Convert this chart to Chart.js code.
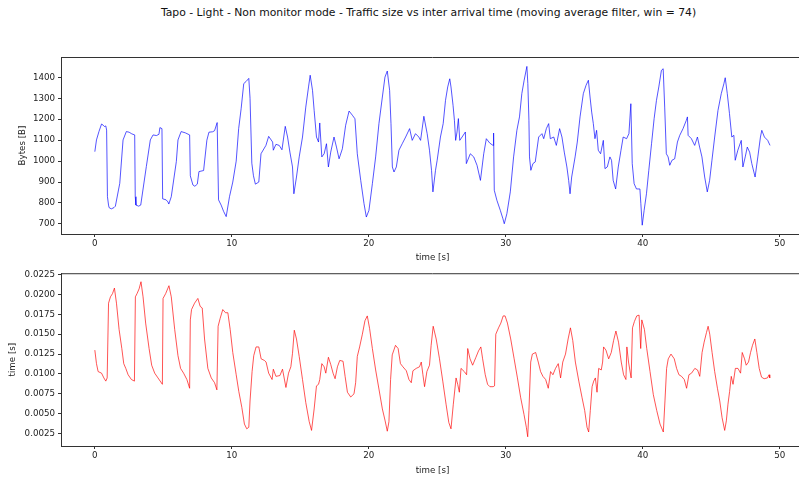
<!DOCTYPE html>
<html>
<head>
<meta charset="utf-8">
<script src="https://cdn.jsdelivr.net/npm/chart.js@4.4.1/dist/chart.umd.min.js"></script>
<style>
  html, body { margin: 0; padding: 0; background: #fff; overflow: hidden; }
  body { width: 799px; height: 482px; position: relative; }
  #suptitle {
    position: absolute; left: 0; top: 6px; width: 857px; text-align: center;
    font: 10.8px "DejaVu Sans", sans-serif; color: #111; white-space: nowrap;
  }
  canvas { position: absolute; left: 0; }
  #cTop { top: 0; }
  #cBot { top: 265px; }
</style>
</head>
<body>
<div id="suptitle">Tapo - Light - Non monitor mode - Traffic size vs inter arrival time (moving average filter, win = 74)</div>
<canvas id="cTop" width="810" height="265"></canvas>
<canvas id="cBot" width="810" height="217"></canvas>
<script>
// valeurs (moyenne glissante)
const xTicks = [0, 10, 20, 30, 40, 50];
const bytesTicks = [700, 800, 900, 1000, 1100, 1200, 1300, 1400];
const iatTicks = [0.0025, 0.005, 0.0075, 0.01, 0.0125, 0.015, 0.0175, 0.02, 0.0225];

const topTime = [0, 0.12, 0.3, 0.49, 0.6, 0.7, 0.8, 0.86, 0.92, 1.0, 1.04, 1.2, 1.4, 1.5, 1.82, 2.06, 2.3, 2.5, 2.7, 2.91,
  2.95, 3.0, 3.2, 3.35, 3.76, 4.05, 4.25, 4.5, 4.68, 4.75, 4.9, 4.95, 5.2, 5.34, 5.4, 5.58, 5.95, 6.07, 6.3, 6.6,
  6.92, 6.97, 7.16, 7.3, 7.48, 7.6, 7.94, 8.18, 8.33, 8.6, 8.74, 8.93, 9.03, 9.22, 9.4, 9.59, 9.83, 10.07, 10.32, 10.5,
  10.68, 10.87, 11.04, 11.24, 11.33, 11.46, 11.58, 11.72, 11.97, 12.13, 12.49, 12.69, 12.98, 13.03, 13.22, 13.46, 13.66, 13.9, 14.07, 14.24,
  14.43, 14.53, 14.72, 14.92, 15.16, 15.4, 15.6, 15.72, 15.89, 16.01, 16.18, 16.33, 16.42, 16.57, 16.74, 16.91, 17.05, 17.22, 17.46, 17.64,
  17.83, 18.07, 18.31, 18.56, 18.8, 18.99, 19.16, 19.41, 19.65, 19.82, 20.01, 20.26, 20.5, 20.74, 20.99, 21.18, 21.35, 21.52, 21.62, 21.72,
  21.84, 22.01, 22.2, 22.44, 22.69, 22.98, 23.17, 23.41, 23.65, 23.78, 24.02, 24.26, 24.43, 24.58, 24.68, 24.87, 24.99, 25.23, 25.43, 25.6,
  25.76, 25.91, 26.0, 26.15, 26.25, 26.34, 26.44, 26.54, 26.64, 26.81, 27.05, 27.12, 27.41, 27.66, 27.9, 28.15, 28.39, 28.58, 28.83, 29.07,
  29.11, 29.16, 29.35, 29.6, 29.79, 29.89, 30.08, 30.33, 30.57, 30.81, 31.0, 31.17, 31.34, 31.54, 31.61, 31.69, 31.73, 31.83, 31.98, 32.15,
  32.4, 32.64, 32.77, 32.96, 33.13, 33.25, 33.5, 33.69, 33.93, 34.1, 34.27, 34.46, 34.59, 34.69, 34.81, 35.06, 35.22, 35.42, 35.66, 35.86,
  36.03, 36.15, 36.27, 36.39, 36.51, 36.63, 36.75, 36.92, 37.12, 37.24, 37.41, 37.6, 37.72, 37.84, 38.02, 38.21, 38.41, 38.57, 38.82, 38.99,
  39.13, 39.23, 39.37, 39.54, 39.79, 39.86, 39.96, 40.1, 40.27, 40.44, 40.64, 40.83, 41.0, 41.17, 41.36, 41.49, 41.6, 41.72, 41.85, 41.97,
  42.13, 42.33, 42.53, 42.7, 42.94, 43.18, 43.26, 43.31, 43.55, 43.79, 43.99, 44.15, 44.32, 44.52, 44.71, 44.88, 45.05, 45.25, 45.49, 45.73,
  45.92, 46.02, 46.17, 46.33, 46.5, 46.65, 46.75, 46.94, 47.19, 47.31, 47.48, 47.63, 47.8, 47.96, 48.2, 48.4, 48.59, 48.69, 48.88, 49.12, 49.29];
const topBytes = [1045, 1101, 1141, 1177, 1172, 1165, 1168, 1148, 830, 790, 778, 772, 778, 785, 894, 1101, 1141, 1138, 1130, 1125,
  830, 790, 785, 790, 974, 1101, 1125, 1122, 1128, 1160, 1155, 820, 815, 805, 795, 830, 998, 1101, 1141, 1135,
  1125, 930, 886, 880, 890, 950, 955, 1100, 1138, 1140, 1145, 1184, 815, 790, 760, 735, 830, 900, 1000, 1155,
  1250, 1370, 1380, 1395, 1300, 990, 930, 890, 900, 1035, 1075, 1118, 1091, 1052, 1080, 1075, 1054, 1166, 1115, 1043,
  972, 844, 924, 1020, 1115, 1258, 1354, 1410, 1338, 1242, 1115, 1091, 1182, 1020, 1035, 1083, 972, 1043, 1115, 1067,
  1011, 1059, 1171, 1239, 1219, 1202, 1035, 908, 797, 733, 765, 892, 1020, 1179, 1306, 1401, 1430, 1338, 1179, 972,
  948, 972, 1052, 1083, 1115, 1155, 1099, 1131, 1115, 1099, 1214, 1131, 1052, 956, 853, 956, 1004, 1115, 1179, 1290,
  1354, 1393, 1354, 1266, 1195, 1099, 1139, 1203, 1099, 1115, 1139, 988, 1035, 1020, 980, 908, 1035, 1107, 1086, 1075,
  1134, 861, 813, 765, 725, 701, 749, 853, 1020, 1147, 1211, 1322, 1386, 1452, 1370, 1195, 1020, 956, 988, 996,
  1115, 1131, 1107, 1155, 1179, 1107, 1115, 1075, 1155, 1115, 1043, 972, 908, 844, 924, 1020, 1091, 1211, 1322, 1362,
  1386, 1306, 1234, 1179, 1107, 1147, 1052, 1035, 1099, 964, 972, 1020, 1004, 908, 867, 972, 1052, 1115, 1107, 1131,
  1274, 988, 892, 867, 867, 797, 694, 765, 844, 956, 1083, 1203, 1290, 1354, 1433, 1441, 1258, 1035, 1020, 980,
  1004, 1011, 1091, 1123, 1155, 1195, 1211, 1123, 1107, 1075, 1115, 1067, 1020, 924, 853, 908, 1004, 1115, 1242, 1322,
  1369, 1398, 1322, 1227, 1115, 1123, 1004, 1052, 1099, 972, 1020, 1067, 1043, 988, 924, 1020, 1115, 1147, 1115, 1099, 1075];

const botTime = [0, 0.12, 0.24, 0.49, 0.66, 0.8, 0.9, 1.0, 1.14, 1.29, 1.43, 1.58, 1.77, 1.97, 2.11, 2.26, 2.43, 2.67, 2.89, 2.96,
  3.08, 3.23, 3.37, 3.52, 3.71, 3.96, 4.15, 4.37, 4.61, 4.93, 4.98, 5.17, 5.41, 5.58, 5.83, 6.07, 6.26, 6.48, 6.72, 6.92,
  6.97, 7.06, 7.28, 7.52, 7.69, 7.84, 8.01, 8.25, 8.5, 8.74, 8.91, 9.0, 9.15, 9.34, 9.54, 9.71, 9.88, 10.07, 10.32, 10.51,
  10.73, 10.92, 11.09, 11.24, 11.33, 11.48, 11.6, 11.77, 11.97, 12.14, 12.38, 12.5, 12.69, 12.94, 13.03, 13.22, 13.51, 13.7, 13.95, 14.14,
  14.31, 14.43, 14.56, 14.72, 14.92, 15.16, 15.4, 15.65, 15.82, 16.01, 16.18, 16.33, 16.42, 16.57, 16.74, 16.86, 17.05, 17.22, 17.39, 17.54,
  17.71, 17.88, 18.12, 18.27, 18.44, 18.68, 18.92, 19.04, 19.16, 19.33, 19.53, 19.72, 19.89, 20.06, 20.26, 20.5, 20.74, 20.99, 21.18, 21.35,
  21.47, 21.59, 21.71, 21.95, 22.14, 22.31, 22.49, 22.74, 22.93, 23.1, 23.22, 23.46, 23.7, 23.83, 23.95, 24.07, 24.24, 24.43, 24.55, 24.7,
  24.92, 25.16, 25.4, 25.64, 25.84, 26.0, 26.17, 26.37, 26.49, 26.61, 26.73, 26.97, 27.14, 27.22, 27.39, 27.58, 27.82, 28.01, 28.18, 28.31,
  28.5, 28.67, 28.84, 29.08, 29.18, 29.27, 29.47, 29.64, 29.81, 29.95, 30.12, 30.36, 30.61, 30.85, 31.09, 31.33, 31.5, 31.6, 31.69, 31.82,
  31.94, 32.18, 32.37, 32.54, 32.71, 32.91, 33.1, 33.27, 33.44, 33.63, 33.83, 34.0, 34.16, 34.36, 34.55, 34.72, 34.89, 35.08, 35.33, 35.57,
  35.76, 35.93, 36.05, 36.17, 36.3, 36.42, 36.54, 36.66, 36.78, 36.97, 37.07, 37.14, 37.31, 37.51, 37.7, 37.87, 38.04, 38.23, 38.43, 38.6,
  38.77, 38.84, 38.96, 39.15, 39.25, 39.39, 39.56, 39.73, 39.85, 39.93, 40.12, 40.29, 40.53, 40.77, 41.02, 41.26, 41.5, 41.62, 41.74, 41.86,
  42.06, 42.3, 42.47, 42.64, 42.83, 43.03, 43.2, 43.37, 43.56, 43.8, 44.0, 44.16, 44.33, 44.48, 44.65, 44.77, 44.89, 45.06, 45.25, 45.45,
  45.62, 45.79, 45.98, 46.1, 46.22, 46.34, 46.46, 46.59, 46.76, 46.95, 47.14, 47.26, 47.43, 47.55, 47.72, 47.87, 48.01, 48.18, 48.33, 48.5,
  48.67, 48.86, 49.1, 49.22, 49.27];
const botIat = [0.0130, 0.0113, 0.0103, 0.0101, 0.0095, 0.0091, 0.0095, 0.0189, 0.0197, 0.0201, 0.0208, 0.0189, 0.0156, 0.0132, 0.0113, 0.0107, 0.0099, 0.0093, 0.0091, 0.0197,
  0.0201, 0.0207, 0.0216, 0.0197, 0.0164, 0.0132, 0.0111, 0.0101, 0.0095, 0.0087, 0.0195, 0.0201, 0.0211, 0.0197, 0.0156, 0.0123, 0.0107, 0.0101, 0.0093, 0.0082,
  0.0168, 0.0181, 0.0189, 0.0195, 0.0185, 0.0183, 0.0144, 0.0107, 0.0095, 0.0089, 0.0080, 0.0160, 0.0170, 0.0181, 0.0177, 0.0177, 0.0156, 0.0127, 0.0099, 0.0078,
  0.0058, 0.0037, 0.0031, 0.0033, 0.0066, 0.0103, 0.0123, 0.0134, 0.0134, 0.0119, 0.0117, 0.0115, 0.0101, 0.0093, 0.0106, 0.0097, 0.0098, 0.0106, 0.0083, 0.0101,
  0.0109, 0.0126, 0.0155, 0.0144, 0.0122, 0.0093, 0.0064, 0.0040, 0.0029, 0.0056, 0.0085, 0.0087, 0.0093, 0.0113, 0.0109, 0.0101, 0.0121, 0.0112, 0.0101, 0.0094,
  0.0109, 0.0117, 0.0116, 0.0097, 0.0077, 0.0071, 0.0075, 0.0089, 0.0122, 0.0134, 0.0150, 0.0167, 0.0173, 0.0157, 0.0132, 0.0105, 0.0081, 0.0056, 0.0042, 0.0028,
  0.0040, 0.0093, 0.0124, 0.0136, 0.0132, 0.0113, 0.0109, 0.0104, 0.0093, 0.0089, 0.0104, 0.0107, 0.0109, 0.0115, 0.0099, 0.0084, 0.0103, 0.0111, 0.0136, 0.0160,
  0.0144, 0.0119, 0.0091, 0.0062, 0.0039, 0.0031, 0.0062, 0.0095, 0.0087, 0.0077, 0.0107, 0.0103, 0.0099, 0.0132, 0.0119, 0.0111, 0.0121, 0.0129, 0.0134, 0.0119,
  0.0099, 0.0087, 0.0084, 0.0084, 0.0085, 0.0150, 0.0158, 0.0164, 0.0173, 0.0173, 0.0164, 0.0144, 0.0119, 0.0095, 0.0070, 0.0049, 0.0033, 0.0021, 0.0054, 0.0115,
  0.0125, 0.0127, 0.0115, 0.0103, 0.0097, 0.0093, 0.0082, 0.0103, 0.0099, 0.0107, 0.0113, 0.0095, 0.0115, 0.0125, 0.0144, 0.0158, 0.0142, 0.0115, 0.0091, 0.0070,
  0.0054, 0.0033, 0.0027, 0.0054, 0.0084, 0.0091, 0.0095, 0.0077, 0.0107, 0.0105, 0.0115, 0.0134, 0.0130, 0.0119, 0.0127, 0.0142, 0.0154, 0.0140, 0.0115, 0.0099,
  0.0093, 0.0134, 0.0115, 0.0095, 0.0158, 0.0166, 0.0173, 0.0174, 0.0132, 0.0168, 0.0156, 0.0132, 0.0103, 0.0074, 0.0054, 0.0037, 0.0027, 0.0066, 0.0107, 0.0119,
  0.0125, 0.0119, 0.0107, 0.0099, 0.0097, 0.0093, 0.0082, 0.0099, 0.0101, 0.0107, 0.0105, 0.0097, 0.0127, 0.0140, 0.0152, 0.0160, 0.0150, 0.0127, 0.0103, 0.0082,
  0.0066, 0.0045, 0.0029, 0.0041, 0.0062, 0.0078, 0.0097, 0.0087, 0.0107, 0.0107, 0.0101, 0.0127, 0.0119, 0.0111, 0.0115, 0.0127, 0.0136, 0.0144, 0.0127, 0.0107,
  0.0096, 0.0094, 0.0095, 0.0099, 0.0095];

const FONT = "DejaVu Sans";
const AX = "#333";

// cadre haut (spine du haut), pas géré par Chart.js
const topSpine = {
  id: "topSpine",
  afterDraw(chart) {
    const { ctx, chartArea: a } = chart;
    ctx.save();
    ctx.strokeStyle = AX;
    ctx.lineWidth = 1;
    ctx.beginPath();
    ctx.moveTo(a.left, a.top + 0.5);
    ctx.lineTo(a.right, a.top + 0.5);
    ctx.stroke();
    ctx.restore();
  },
};

function makeChart(id, xs, ys, color, yOpt) {
  const pts = xs.map((x, i) => ({ x, y: ys[i] }));
  return new Chart(document.getElementById(id), {
    type: "line",
    data: { datasets: [{ data: pts, borderColor: color, borderWidth: 0.9, pointRadius: 0, tension: 0 }] },
    options: {
      responsive: false,
      animation: false,
      events: [],
      layout: { padding: { top: yOpt.padTop, right: 6, left: 0, bottom: 0 } },
      plugins: { legend: { display: false }, tooltip: { enabled: false } },
      scales: {
        x: {
          type: "linear", min: -2.47, max: 51.77,
          afterBuildTicks: (s) => { s.ticks = xTicks.map((v) => ({ value: v })); },
          afterFit: (s) => { s.height = yOpt.xHeight; },
          grid: { drawOnChartArea: false, color: AX, tickLength: 3 },
          border: { color: AX, width: 1 },
          ticks: { color: "#222", font: { family: FONT, size: 8.7 }, padding: 1.5, maxRotation: 0 },
          title: { display: true, text: "time [s]", color: "#222", font: { family: FONT, size: 8.7 }, padding: { top: 0, bottom: yOpt.xTitlePad } },
        },
        y: {
          type: "linear", min: yOpt.min, max: yOpt.max,
          afterBuildTicks: (s) => { s.ticks = yOpt.ticks.map((v) => ({ value: v })); },
          afterFit: (s) => { s.width = 61; },
          grid: { drawOnChartArea: false, color: AX, tickLength: 3 },
          border: { color: AX, width: 1 },
          ticks: { color: "#222", font: { family: FONT, size: 8.7 }, padding: 3, callback: yOpt.fmt },
          title: { display: true, text: yOpt.label, color: "#222", font: { family: FONT, size: 8.7 }, padding: { top: yOpt.yTitlePad, bottom: 0 } },
        },
      },
    },
    plugins: [topSpine],
  });
}

makeChart("cTop", topTime, topBytes, "rgba(0,0,255,0.75)", {
  min: 652, max: 1497, ticks: bytesTicks, label: "Bytes [B]",
  padTop: 57, xHeight: 31, xTitlePad: 2.4, yTitlePad: 17.2,
  fmt: (v) => String(v),
});
makeChart("cBot", botTime, botIat, "rgba(255,0,0,0.75)", {
  min: 0.00094, max: 0.02267, ticks: iatTicks, label: "time [s]",
  padTop: 4, xHeight: 36, xTitlePad: 6.5, yTitlePad: 7.8,
  fmt: (v) => v.toFixed(4),
});
</script>
</body>
</html>
